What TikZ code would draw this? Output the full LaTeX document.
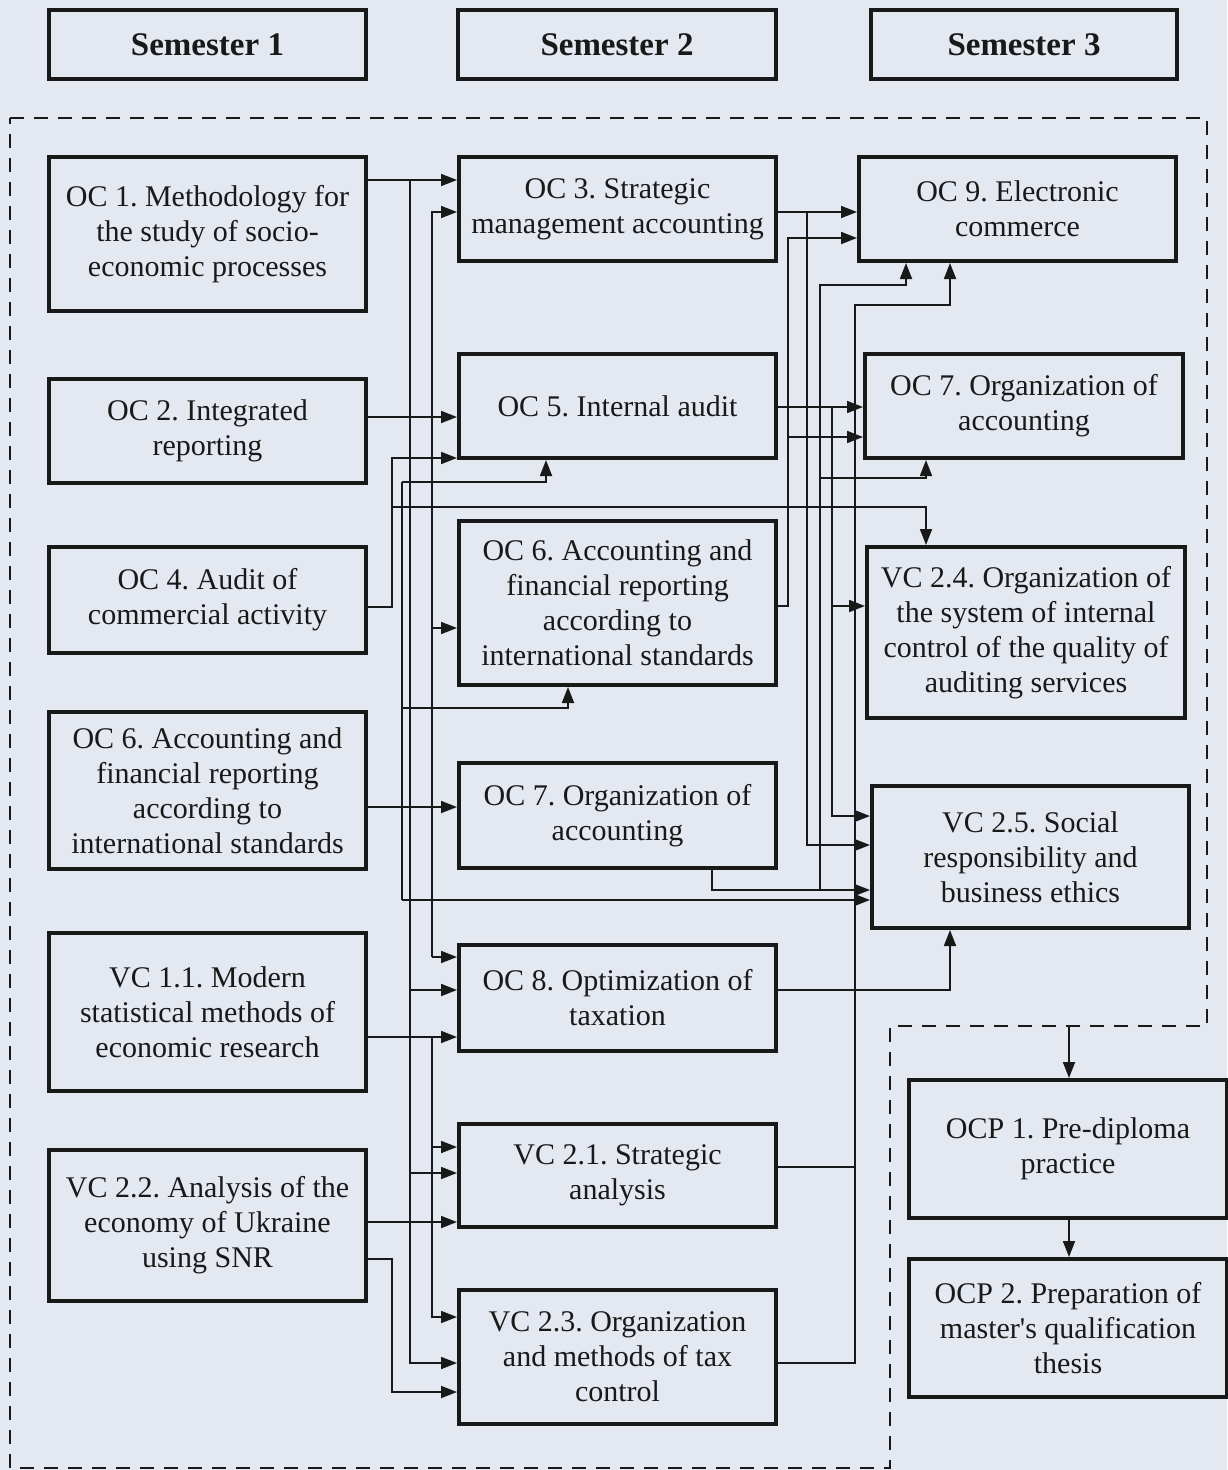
\documentclass[tikz,border=0pt]{standalone}
\usepackage{fontspec}
\setmainfont{Liberation Serif}[Ligatures=TeXOff]
\usetikzlibrary{arrows.meta}
\definecolor{bgc}{RGB}{228,232,240}
\definecolor{ink}{RGB}{25,25,25}
\frenchspacing
\tikzset{
 box/.style={draw=ink, line width=4pt, fill=bgc, align=center, font=\fontsize{30}{35}\selectfont, inner sep=0pt, text=ink},
 hdr/.style={box, font=\fontsize{33}{38}\selectfont\bfseries},
 conn/.style={draw=ink, line width=1.8pt},
 arr/.style={conn, -{Triangle[length=16pt,width=12pt]}},
 dframe/.style={draw=ink, line width=2.6pt, dash pattern=on 14pt off 10pt},
}
\begin{document}
\begin{tikzpicture}[x=1pt,y=-1pt]
\fill[bgc] (0,0) rectangle (1227,1470);
\useasboundingbox (0,0) rectangle (1227,1470);

% headers
\node[hdr, minimum width=317pt, minimum height=69pt] (s1) at (207.5,44.5) {Semester 1};
\node[hdr, minimum width=318pt, minimum height=69pt] (s2) at (617,44.5) {Semester 2};
\node[hdr, minimum width=306pt, minimum height=69pt] (s3) at (1024,44.5) {Semester 3};

% dashed frame
\draw[dframe] (10,118) -- (1207,118) -- (1207,1026) -- (890,1026) -- (890,1468) -- (10,1468) -- cycle;
\coordinate (fr) at (1069,1026);

% column 1
\node[box, minimum width=317pt, minimum height=154pt] (oc1) at (207.5,234) {OC 1. Methodology for\\the study of socio-\\economic processes};
\node[box, minimum width=317pt, minimum height=104pt] (oc2) at (207.5,431) {OC 2. Integrated\\reporting};
\node[box, minimum width=317pt, minimum height=106pt] (oc4) at (207.5,600) {OC 4. Audit of\\commercial activity};
\node[box, minimum width=317pt, minimum height=157pt] (oc6a) at (207.5,790.5) {OC 6. Accounting and\\financial reporting\\according to\\international standards};
\node[box, minimum width=317pt, minimum height=158pt] (vc11) at (207.5,1012) {VC 1.1. Modern\\statistical methods of\\economic research};
\node[box, minimum width=317pt, minimum height=151pt] (vc22) at (207.5,1225.5) {VC 2.2. Analysis of the\\economy of Ukraine\\using SNR};

% column 2
\node[box, minimum width=317pt, minimum height=104pt] (oc3) at (617.5,209) {OC 3. Strategic\\management accounting};
\node[box, minimum width=317pt, minimum height=104pt] (oc5) at (617.5,406) {OC 5. Internal audit};
\node[box, minimum width=317pt, minimum height=164pt] (oc6b) at (617.5,603) {OC 6. Accounting and\\financial reporting\\according to\\international standards};
\node[box, minimum width=317pt, minimum height=105pt] (oc7b) at (617.5,815.5) {OC 7. Organization of\\accounting};
\node[box, minimum width=317pt, minimum height=106pt] (oc8) at (617.5,998) {OC 8. Optimization of\\taxation};
\node[box, minimum width=317pt, minimum height=103pt] (vc21) at (617.5,1175.5) {VC 2.1. Strategic\\analysis};
\node[box, minimum width=317pt, minimum height=134pt] (vc23) at (617.5,1357) {VC 2.3. Organization\\and methods of tax\\control};

% column 3
\node[box, minimum width=317pt, minimum height=104pt] (oc9) at (1017.5,209) {OC 9. Electronic\\commerce};
\node[box, minimum width=318pt, minimum height=104pt] (oc7c) at (1024,406) {OC 7. Organization of\\accounting};
\node[box, minimum width=318pt, minimum height=171pt] (vc24) at (1026,632.5) {VC 2.4. Organization of\\the system of internal\\control of the quality of\\auditing services};
\node[box, minimum width=317pt, minimum height=142pt] (vc25) at (1030.5,857) {VC 2.5. Social\\responsibility and\\business ethics};
\node[box, minimum width=318pt, minimum height=138pt] (ocp1) at (1068,1149) {OCP 1. Pre-diploma\\practice};
\node[box, minimum width=318pt, minimum height=138pt] (ocp2) at (1068,1328) {OCP 2. Preparation of\\master's qualification\\thesis};

% connectors column 1 -> 2
\draw[arr] (oc1.east |- 0,180) -- (oc3.west |- 0,180);
\draw[arr] (410,180) |- (vc23.west |- 0,1363);
\draw[arr] (410,990) -- (oc8.west |- 0,990);
\draw[arr] (410,1173) -- (vc21.west |- 0,1173);
\draw[arr] (432,957) |- (oc3.west |- 0,212);
\draw[arr] (432,957) -- (oc8.west |- 0,957);
\draw[arr] (432,628) -- (oc6b.west |- 0,628);
\draw[arr] (oc2.east |- 0,417) -- (oc5.west |- 0,417);
\draw[arr] (oc4.east |- 0,607) -| (392,458) -- (oc5.west |- 0,458);
\draw[arr] (392,507) -| (vc24.north -| 926,0);
\draw[conn] (402,482) -- (402,900);
\draw[arr] (402,482) -| (oc5.south -| 546,0);
\draw[arr] (402,708) -| (oc6b.south -| 568,0);
\draw[arr] (402,900) -- (vc25.west |- 0,900);
\draw[arr] (oc6a.east |- 0,807) -- (oc7b.west |- 0,807);
\draw[arr] (vc11.east |- 0,1037) -- (oc8.west |- 0,1037);
\draw[arr] (432,1147) -- (vc21.west |- 0,1147);
\draw[arr] (432,1037) |- (vc23.west |- 0,1317);
\draw[arr] (vc22.east |- 0,1222) -- (vc21.west |- 0,1222);
\draw[arr] (vc22.east |- 0,1259) -| (392,1392) -- (vc23.west |- 0,1392);

% connectors column 2 -> 3
\draw[arr] (oc3.east |- 0,212) -- (oc9.west |- 0,212);
\draw[arr] (807,212) |- (vc25.west |- 0,845);
\draw[arr] (oc6b.east |- 0,606) -| (788,238) -- (oc9.west |- 0,238);
\draw[arr] (788,437) -- (oc7c.west |- 0,437);
\draw[arr] (oc5.east |- 0,407) -- (oc7c.west |- 0,407);
\draw[arr] (832,407) |- (vc25.west |- 0,816);
\draw[arr] (832,606) -- (vc24.west |- 0,606);
\draw[arr] (oc7b.south -| 712,0) |- (vc25.west |- 0,890);
\draw[arr] (820,890) |- (906,285) -- (oc9.south -| 906,0);
\draw[arr] (820,478) -| (oc7c.south -| 926,0);
\draw[arr] (vc23.east |- 0,1363) -| (855,305) -| (oc9.south -| 950,0);
\draw[conn] (vc21.east |- 0,1167) -- (855,1167);
\draw[arr] (oc8.east |- 0,990) -| (vc25.south -| 950,0);

% practice
\draw[arr] (fr) -- (ocp1.north -| fr);
\draw[arr] (ocp1.south -| fr) -- (ocp2.north -| fr);
\end{tikzpicture}
\end{document}
